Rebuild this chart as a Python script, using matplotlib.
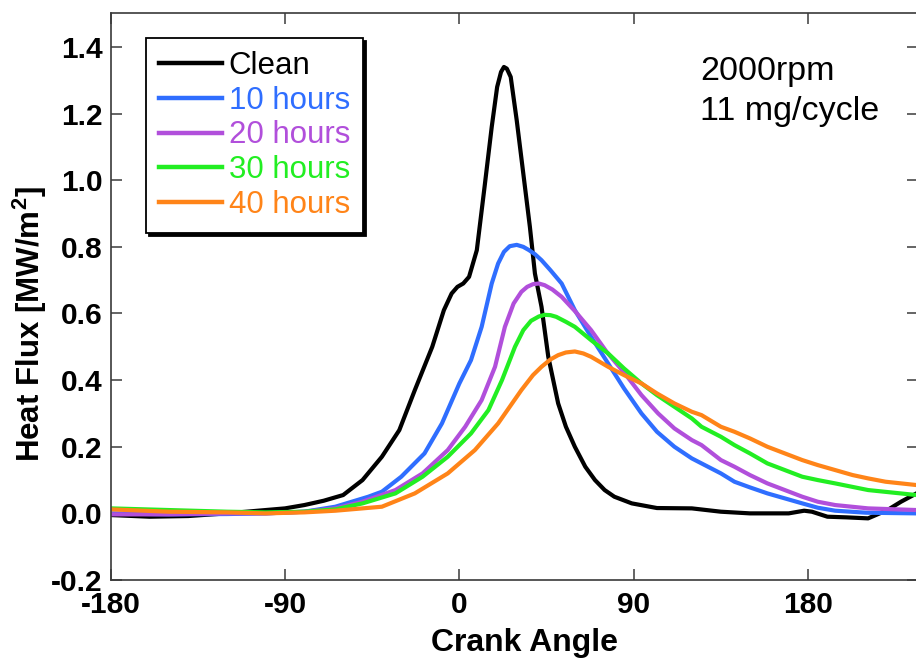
import matplotlib
matplotlib.use("Agg")
import matplotlib.pyplot as plt

# ---------------- data ----------------
clean_x = [-180, -160, -140, -120, -100, -90, -80, -70, -60, -50, -40, -31, -23, -14, -8, -4, -1,
           2, 5, 9, 13, 16.7, 19.5, 21.5, 23, 24.5, 26.5, 29.6, 33, 36.4, 39, 42.4, 45.9, 51, 55,
           59.6, 65, 70, 75, 80, 89, 102, 120, 135, 150, 160, 170, 178, 182, 190, 200, 211, 221, 228, 236]
clean_y = [-0.005, -0.01, -0.008, 0.0, 0.01, 0.015, 0.025, 0.038, 0.055, 0.1, 0.17, 0.25, 0.37, 0.5, 0.61, 0.66, 0.68,
           0.69, 0.71, 0.79, 0.98, 1.16, 1.28, 1.325, 1.34, 1.335, 1.31, 1.18, 1.02, 0.86, 0.72, 0.62, 0.47, 0.33, 0.26,
           0.2, 0.14, 0.1, 0.07, 0.05, 0.03, 0.016, 0.015, 0.005, 0.0, 0.0, 0.0, 0.008, 0.005, -0.01, -0.012, -0.015, 0.01, 0.035, 0.06]

h10_x = [-180, -150, -120, -100, -80, -64, -47, -40, -30, -18, -9, 0, 6, 11.5, 16.7, 20, 23, 26, 29.6, 33, 36, 39,
         42.4, 47, 52.8, 59.6, 68, 76.8, 85, 94, 102, 111, 120, 125, 135, 142, 150, 159, 168, 177, 185, 194, 210, 236]
h10_y = [0.0, -0.003, -0.002, 0.0, 0.005, 0.02, 0.05, 0.065, 0.11, 0.18, 0.27, 0.39, 0.46, 0.56, 0.69, 0.75, 0.785,
         0.802, 0.806, 0.8, 0.79, 0.778, 0.76, 0.73, 0.69, 0.61, 0.53, 0.45, 0.375, 0.3, 0.245, 0.2, 0.165, 0.15, 0.12,
         0.095, 0.078, 0.06, 0.045, 0.03, 0.017, 0.008, 0.002, 0.0]

h20_x = [-180, -150, -120, -100, -80, -64, -50, -33, -19, -6, 3, 11.5, 18.4, 23.5, 28, 32, 35, 38, 41, 44, 48,
         52.8, 60, 68, 76, 85.4, 94, 102.6, 111, 120, 125, 135, 142, 150, 159, 168, 177, 185, 194, 211, 236]
h20_y = [-0.003, -0.003, 0.0, 0.0, 0.005, 0.015, 0.035, 0.07, 0.12, 0.19, 0.26, 0.34, 0.44, 0.56, 0.63, 0.665, 0.68,
         0.688, 0.69, 0.685, 0.672, 0.65, 0.605, 0.55, 0.485, 0.42, 0.355, 0.3, 0.255, 0.22, 0.205, 0.16, 0.14, 0.115,
         0.09, 0.07, 0.05, 0.035, 0.025, 0.015, 0.01]

h30_x = [-180, -150, -120, -100, -80, -64, -50, -33, -19, -6, 6, 15, 22, 28.7, 33, 37, 41, 44, 47, 50, 55, 59.6, 68,
         76.8, 85, 94, 102, 111, 120, 125, 135, 142, 150, 159, 168, 177, 185, 194, 211, 236]
h30_y = [0.015, 0.01, 0.005, 0.003, 0.005, 0.012, 0.03, 0.06, 0.11, 0.17, 0.24, 0.31, 0.4, 0.5, 0.55, 0.578, 0.591,
         0.596, 0.595, 0.59, 0.575, 0.56, 0.52, 0.48, 0.435, 0.39, 0.355, 0.32, 0.285, 0.26, 0.23, 0.205, 0.18, 0.15,
         0.13, 0.11, 0.1, 0.09, 0.07, 0.055]

h40_x = [-180, -150, -120, -100, -80, -64, -50, -40, -23, -6, 8, 20, 32, 38, 42.4, 47, 51, 55, 59.6, 64, 68, 76.8,
         85, 94, 102, 111, 120, 125, 135, 142, 150, 159, 168, 177, 185, 194, 203, 211, 220, 236]
h40_y = [0.012, 0.005, 0.003, 0.0, 0.003, 0.008, 0.015, 0.02, 0.06, 0.12, 0.19, 0.27, 0.37, 0.415, 0.44, 0.462,
         0.475, 0.483, 0.486, 0.48, 0.47, 0.44, 0.415, 0.39, 0.36, 0.33, 0.305, 0.295, 0.26, 0.245, 0.225, 0.2, 0.18,
         0.16, 0.145, 0.13, 0.115, 0.105, 0.095, 0.085]

labels = ["Clean", "10 hours", "20 hours", "30 hours", "40 hours"]
colors = ["#000000", "#2F6EFF", "#B14FDB", "#22EE22", "#FF8418"]
x_ticks = [-180, -90, 0, 90, 180]
y_ticks = [-0.2, 0.0, 0.2, 0.4, 0.6, 0.8, 1.0, 1.2, 1.4]

# ---------------- style ----------------
plt.rcParams['font.family'] = ['Liberation Sans', 'DejaVu Sans']
plt.rcParams['mathtext.fontset'] = 'custom'
plt.rcParams['mathtext.rm'] = 'Liberation Sans'
plt.rcParams['mathtext.bf'] = 'Liberation Sans:bold'

fig = plt.figure(figsize=(9.16, 6.64), dpi=100)
ax = fig.add_axes([110.7 / 916, 84 / 664, (917.5 - 110.7) / 916, (580 - 13) / 664])

series = [(clean_x, clean_y), (h10_x, h10_y), (h20_x, h20_y), (h30_x, h30_y), (h40_x, h40_y)]
for (xs, ys), lab, col in zip(series, labels, colors):
    ax.plot(xs, ys, color=col, lw=3.0, label=lab, solid_joinstyle='round')

ax.set_xlim(-180, 236.5)
ax.set_ylim(-0.2, 1.502)
ax.set_xticks(x_ticks)
ax.set_xticklabels([str(t) for t in x_ticks])
ax.set_yticks(y_ticks)
ax.set_yticklabels([f"{t:.1f}" for t in y_ticks])

for s in ax.spines.values():
    s.set_color('#3a3a3a')
    s.set_linewidth(1.2)

ax.tick_params(direction='in', length=8, width=1.1, color='#3a3a3a',
               top=True, right=True, labelsize=21.5)
ax.tick_params(axis='x', pad=8)
ax.tick_params(axis='y', pad=6)
for lbl in ax.get_xticklabels() + ax.get_yticklabels():
    lbl.set_fontweight('bold')

ax.set_xlabel("Crank Angle", fontsize=23, fontweight='bold')
ax.set_ylabel(r"Heat Flux [MW/m$^{\mathbf{2}}$]", fontsize=22.5, fontweight='bold')
ax.xaxis.set_label_coords(0.513, -0.085)
ax.yaxis.set_label_coords(-0.076, 0.452)

leg = ax.legend(loc='upper left', bbox_to_anchor=(0.0438, 0.956), borderaxespad=0,
                fontsize=22.5, frameon=True, fancybox=False,
                shadow={'color': 'black', 'alpha': 1.0},
                handlelength=2.0, handletextpad=0.22, labelspacing=0.15,
                borderpad=0.42)
leg.get_frame().set_edgecolor('black')
leg.get_frame().set_linewidth(1.3)
for txt, col in zip(leg.get_texts(), colors):
    txt.set_color(col)
for ln in leg.get_lines():
    ln.set_linewidth(3.2)

ax.text(0.731, 0.8818, "2000rpm", transform=ax.transAxes, fontsize=24.5, va='baseline', ha='left')
ax.text(0.731, 0.8113, "11 mg/cycle", transform=ax.transAxes, fontsize=24.5, va='baseline', ha='left')

fig.savefig("out.png", dpi=100)
